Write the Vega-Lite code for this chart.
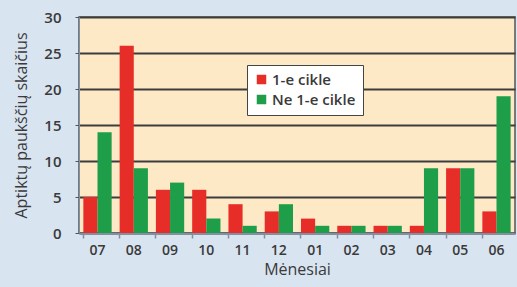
{
  "$schema": "https://vega.github.io/schema/vega-lite/v6.json",
  "width": 436,
  "height": 216,
  "autosize": {"type": "none"},
  "padding": {"left": 79, "top": 17, "right": 2, "bottom": 54},
  "background": "#d9e4f1",
  "config": {
    "view": {"fill": "#fde9c6", "stroke": "#555555", "strokeWidth": 1.5},
    "font": "Open Sans"
  },
  "data": {
    "values": [
      {"m": "07", "s": "1-e cikle", "v": 5}, {"m": "07", "s": "Ne 1-e cikle", "v": 14},
      {"m": "08", "s": "1-e cikle", "v": 26}, {"m": "08", "s": "Ne 1-e cikle", "v": 9},
      {"m": "09", "s": "1-e cikle", "v": 6}, {"m": "09", "s": "Ne 1-e cikle", "v": 7},
      {"m": "10", "s": "1-e cikle", "v": 6}, {"m": "10", "s": "Ne 1-e cikle", "v": 2},
      {"m": "11", "s": "1-e cikle", "v": 4}, {"m": "11", "s": "Ne 1-e cikle", "v": 1},
      {"m": "12", "s": "1-e cikle", "v": 3}, {"m": "12", "s": "Ne 1-e cikle", "v": 4},
      {"m": "01", "s": "1-e cikle", "v": 2}, {"m": "01", "s": "Ne 1-e cikle", "v": 1},
      {"m": "02", "s": "1-e cikle", "v": 1}, {"m": "02", "s": "Ne 1-e cikle", "v": 1},
      {"m": "03", "s": "1-e cikle", "v": 1}, {"m": "03", "s": "Ne 1-e cikle", "v": 1},
      {"m": "04", "s": "1-e cikle", "v": 1}, {"m": "04", "s": "Ne 1-e cikle", "v": 9},
      {"m": "05", "s": "1-e cikle", "v": 9}, {"m": "05", "s": "Ne 1-e cikle", "v": 9},
      {"m": "06", "s": "1-e cikle", "v": 3}, {"m": "06", "s": "Ne 1-e cikle", "v": 19}
    ]
  },
  "mark": {"type": "bar"},
  "encoding": {
    "x": {
      "field": "m", "type": "nominal",
      "sort": ["07","08","09","10","11","12","01","02","03","04","05","06"],
      "scale": {"paddingInner": 0.22, "paddingOuter": 0.12},
      "axis": {
        "title": "Mėnesiai", "labelAngle": 0, "bandPosition": 0,
        "labelFontSize": 14, "labelFontWeight": 600, "labelColor": "#3a3a3a", "labelPadding": 5,
        "titleFontSize": 16, "titleFontWeight": 500, "titleColor": "#3a3a3a", "titlePadding": 4,
        "domainColor": "#7f8fa6", "domainWidth": 1.5, "tickColor": "#7f8fa6", "tickSize": 5, "tickWidth": 1.5
      }
    },
    "xOffset": {"field": "s", "type": "nominal", "sort": ["1-e cikle", "Ne 1-e cikle"]},
    "y": {
      "field": "v", "type": "quantitative",
      "scale": {"domain": [0, 30]},
      "axis": {
        "title": "Aptiktų paukščių skaičius", "values": [0,5,10,15,20,25,30],
        "labelFontSize": 15, "labelFontWeight": 600, "labelColor": "#3a3a3a", "labelPadding": 14,
        "titleFontSize": 16, "titleFontWeight": 500, "titleColor": "#3a3a3a", "titlePadding": 14,
        "grid": true, "gridColor": "#3d3d3d", "gridWidth": 1.8,
        "domainColor": "#7f8fa6", "tickColor": "#555555", "tickSize": 4
      }
    },
    "color": {
      "field": "s", "type": "nominal",
      "sort": ["1-e cikle", "Ne 1-e cikle"],
      "scale": {"range": ["#e62d28", "#1e9e48"]},
      "legend": {
        "title": null, "orient": "none", "legendX": 168, "legendY": 48,
        "symbolType": "square", "symbolSize": 90, "symbolStrokeWidth": 0,
        "labelFontSize": 15, "labelFontWeight": 600, "labelColor": "#3a3a3a",
        "fillColor": "#ffffff", "strokeColor": "#444444", "padding": 7,
        "rowPadding": 4, "labelOffset": 3
      }
    }
  }
}
